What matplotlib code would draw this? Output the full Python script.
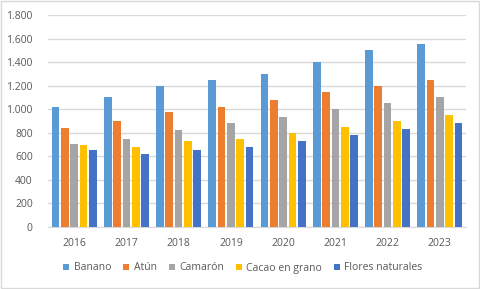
import numpy as np
import matplotlib.pyplot as plt
from matplotlib.ticker import FuncFormatter, MultipleLocator
from matplotlib.patches import Rectangle

years = ["2016", "2017", "2018", "2019", "2020", "2021", "2022", "2023"]
banano = [1020, 1100, 1200, 1250, 1300, 1400, 1500, 1550]
atun = [840, 900, 980, 1020, 1080, 1150, 1200, 1250]
camaron = [705, 750, 820, 880, 930, 1000, 1050, 1100]
cacao = [700, 680, 730, 750, 795, 850, 900, 950]
flores = [650, 620, 650, 680, 730, 780, 830, 880]

series = [
    ("Banano", banano, "#5B9BD5"),
    ("Atún", atun, "#ED7D31"),
    ("Camarón", camaron, "#A5A5A5"),
    ("Cacao en grano", cacao, "#FFC000"),
    ("Flores naturales", flores, "#4472C4"),
]

plt.rcParams["font.family"] = ["Open Sans", "DejaVu Sans"]
txt = "#595959"

fig = plt.figure(figsize=(4.81, 2.89), dpi=100)
ax = fig.add_axes([48 / 481, 1 - 227 / 289, 418 / 481, 212 / 289])

x = np.arange(len(years))
step = 0.179
width = 0.148
for i, (name, vals, color) in enumerate(series):
    ax.bar(x + (i - 2) * step, vals, width=width, color=color, label=name, zorder=3)

ax.set_xlim(-0.5, len(years) - 0.5)
ax.set_ylim(0, 1800)
ax.yaxis.set_major_locator(MultipleLocator(200))
ax.yaxis.set_major_formatter(FuncFormatter(lambda v, p: f"{int(v):,}".replace(",", ".")))
ax.set_xticks(x)
ax.set_xticklabels(years)
ax.grid(axis="y", color="#D9D9D9", linewidth=1, zorder=0)
for s in ["top", "right", "left"]:
    ax.spines[s].set_visible(False)
ax.spines["bottom"].set_color("#D9D9D9")
ax.tick_params(axis="both", length=0, labelsize=7.5, labelcolor=txt)
ax.tick_params(axis="y", pad=11)
ax.tick_params(axis="x", pad=8)

fig.legend(loc="center", bbox_to_anchor=(243 / 481, 1 - 268 / 289), ncol=5, frameon=False,
           fontsize=7.5, labelcolor=txt, handlelength=0.6, handleheight=0.6,
           handletextpad=0.4, columnspacing=1.15)

fig.patches.append(Rectangle((0.002, 0.003), 0.994, 0.992, transform=fig.transFigure,
                             fill=False, edgecolor="#D9D9D9", linewidth=1))

fig.savefig("out.png", dpi=100)
